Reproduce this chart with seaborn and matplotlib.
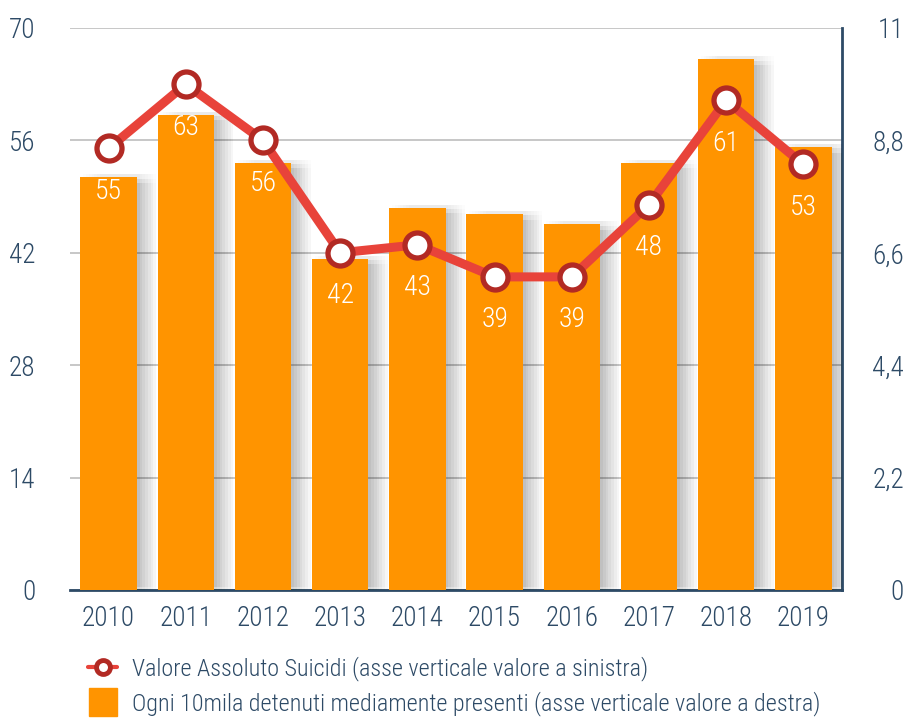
import matplotlib
matplotlib.use("Agg")
import matplotlib.pyplot as plt
import matplotlib.patheffects as pe
from matplotlib.lines import Line2D
import seaborn as sns
import pandas as pd

years = ["2010", "2011", "2012", "2013", "2014", "2015", "2016", "2017", "2018", "2019"]
suicides = [55, 63, 56, 42, 43, 39, 39, 48, 61, 53]
rate_per_10k = [8.08, 9.30, 8.36, 6.48, 7.48, 7.36, 7.16, 8.36, 10.39, 8.67]
left_ticks = [0, 14, 28, 42, 56, 70]
right_ticks = [0, 2.2, 4.4, 6.6, 8.8, 11]
right_labels = ["0", "2,2", "4,4", "6,6", "8,8", "11"]
legend_labels = ["Valore Assoluto Suicidi (asse verticale valore a sinistra)",
                 "Ogni 10mila detenuti mediamente presenti (asse verticale valore a destra)"]

df = pd.DataFrame({"year": years, "suicides": suicides, "rate": rate_per_10k})

sns.set_theme(style="white")
plt.rcParams["font.family"] = ["Roboto Condensed", "Asap Condensed", "DejaVu Sans"]
plt.rcParams["font.weight"] = "light"

TXT = "#2d4a66"
ORANGE = "#ff9400"
RED = "#e8433a"
DARKRED = "#b22a24"

fig = plt.figure(figsize=(9.09, 7.2), dpi=100)
ax = fig.add_axes([70 / 909, 130 / 720, 772 / 909, 562 / 720])

# bars (right scale)
sns.barplot(data=df, x="year", y="rate", ax=ax, color=ORANGE, width=0.73,
            saturation=1, zorder=3)
shadow = []
for dx in range(2, 15, 2):
    for dy in (-4, -1, 2):
        shadow.append(pe.SimplePatchShadow(offset=(dx, dy), shadow_rgbFace="#000000", alpha=0.011))
shadow.append(pe.Normal())
for p in ax.patches:
    p.set_path_effects(shadow)
    p.set_edgecolor("none")

ax.set_ylim(0, 11)
ax.set_xlim(-0.5, 9.5)
ax.yaxis.grid(True, color="#bdbdbd", linewidth=1.2, zorder=0)
ax.set_axisbelow(True)
ax.set_xlabel("")
ax.set_ylabel("")
ax.tick_params(axis="x", length=0, pad=11, labelsize=19.5, labelcolor=TXT)

for s in ["top", "left"]:
    ax.spines[s].set_visible(False)
for s in ["bottom", "right"]:
    ax.spines[s].set_color(TXT)
    ax.spines[s].set_linewidth(2)

# line (left scale)
axL = ax.twinx()
sns.pointplot(data=df, x="year", y="suicides", ax=axL, color=RED,
              markers="o", linestyles="-", linewidth=6.5, markersize=18)
for ln in axL.lines:
    ln.set_markerfacecolor("white")
    ln.set_markeredgecolor(DARKRED)
    ln.set_markeredgewidth(3.8)
    ln.set_color(RED)
    ln.set_zorder(5)
axL.set_ylim(0, 70)
axL.set_xlim(-0.5, 9.5)
axL.set_yticks(left_ticks)
axL.yaxis.tick_left()
axL.yaxis.set_label_position("left")
axL.tick_params(axis="y", length=0, pad=25, labelsize=19.5, labelcolor=TXT)
axL.set_ylabel("")
axL.set_xlabel("")
for s in ["top", "left", "right", "bottom"]:
    axL.spines[s].set_visible(False)

# right axis ticks for the bars (after twinx, which moves them left)
ax.yaxis.tick_right()
ax.set_yticks(right_ticks)
ax.set_yticklabels(right_labels)
ax.tick_params(axis="y", which="both", left=False, labelleft=False, right=False,
               labelright=True, length=0, pad=44.6, labelsize=19.5, labelcolor=TXT)
for t in ax.yaxis.get_major_ticks():
    t.label2.set_horizontalalignment("right")

for i, v in enumerate(suicides):
    axL.annotate(str(v), (i, v), xytext=(0, -31), textcoords="offset points",
                 ha="center", va="center", color="white", fontsize=20, zorder=6)

handles = [
    Line2D([], [], color=RED, linewidth=3, marker="o", markersize=10,
           markerfacecolor="white", markeredgecolor=DARKRED, markeredgewidth=3.5),
    Line2D([], [], color=ORANGE, linestyle="none", marker="s", markersize=19.5),
]
leg = fig.legend(handles, legend_labels, loc="upper left",
                 bbox_to_anchor=(88 / 909, 1 - 656 / 720), frameon=False,
                 fontsize=17.4, handlelength=1.2, handletextpad=0.6,
                 labelspacing=0.45, borderaxespad=0, borderpad=0)
for t in leg.get_texts():
    t.set_color(TXT)

fig.savefig("out.png", dpi=100)
